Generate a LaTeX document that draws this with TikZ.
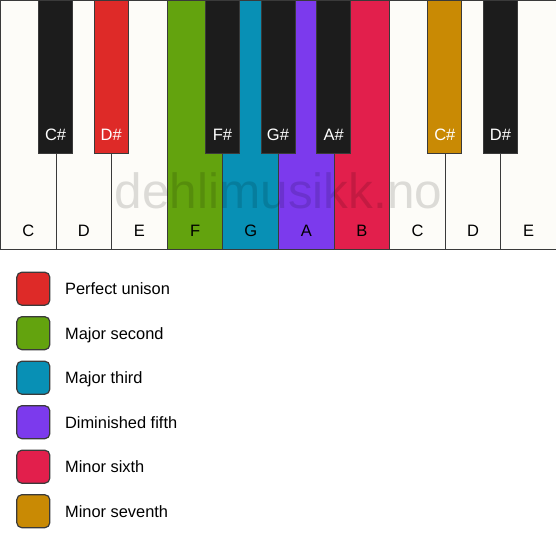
\documentclass[tikz,border=0pt]{standalone}
\usepackage{fontspec}
\setmainfont{Liberation Sans}
\usetikzlibrary{positioning}
\definecolor{ivory}{HTML}{FDFCF8}
\definecolor{keyblack}{HTML}{1C1C1C}
\definecolor{keyline}{HTML}{3A3A3A}
\definecolor{unison}{HTML}{DE2A28}
\definecolor{second}{HTML}{63A30E}
\definecolor{third}{HTML}{0890B5}
\definecolor{fifth}{HTML}{7C3AED}
\definecolor{sixth}{HTML}{E21F4C}
\definecolor{seventh}{HTML}{C98A04}
\tikzset{
  wkey/.style={draw=keyline, line width=1pt, fill=#1, minimum width=55.6pt, minimum height=249pt, anchor=north west, inner sep=0pt},
  bkey/.style={draw=keyline, line width=1pt, fill=#1, minimum width=34pt, minimum height=153pt, anchor=north, inner sep=0pt},
  wlab/.style={inner sep=0pt, text=black, font=\fontsize{16.5}{19}\selectfont},
  blab/.style={inner sep=0pt, text=white, font=\fontsize{16.5}{19}\selectfont},
  swatch/.style={draw=keyline, line width=1.2pt, fill=#1, rounded corners=5pt, minimum size=33pt, inner sep=0pt},
  legtext/.style={inner sep=0pt, text height=12.5pt, text depth=0pt, anchor=west, font=\fontsize{16.4}{19}\selectfont}
}
\begin{document}
\begin{tikzpicture}[x=1pt,y=-1pt]
	\useasboundingbox (0,0) rectangle (556,550);
	% white keys
	\node[wkey=ivory] (kC) at (0,0) {};
	\node[wkey=ivory] (kD) at (55.6,0) {};
	\node[wkey=ivory] (kE) at (111.2,0) {};
	\node[wkey=second] (kF) at (166.8,0) {};
	\node[wkey=third] (kG) at (222.4,0) {};
	\node[wkey=fifth] (kA) at (278,0) {};
	\node[wkey=sixth] (kB) at (333.6,0) {};
	\node[wkey=ivory] (kCC) at (389.2,0) {};
	\node[wkey=ivory] (kDD) at (444.8,0) {};
	\node[wkey=ivory] (kEE) at (500.4,0) {};
	
	\node[wlab, above=13pt of kC.south] (lC) {C};
	\node[wlab, above=13pt of kD.south] (lD) {D};
	\node[wlab, above=13pt of kE.south] (lE) {E};
	\node[wlab, above=13pt of kF.south] (lF) {F};
	\node[wlab, above=13pt of kG.south] (lG) {G};
	\node[wlab, above=13pt of kA.south] (lA) {A};
	\node[wlab, above=13pt of kB.south] (lB) {B};
	\node[wlab, above=13pt of kCC.south] (lCC) {C};
	\node[wlab, above=13pt of kDD.south] (lDD) {D};
	\node[wlab, above=13pt of kEE.south] (lEE) {E};
	
	% watermark
	\node[inner sep=0pt, anchor=base, text=black, text opacity=0.13, font=\fontsize{49.5}{52}\selectfont] (wm) at (278.5,208) {dehlimusikk.no};
	
	% black keys
	\node[bkey=keyblack] (kCs) at (55.6,0) {};
	\node[bkey=unison] (kDs) at (111.2,0) {};
	\node[bkey=keyblack] (kFs) at (222.4,0) {};
	\node[bkey=keyblack] (kGs) at (278,0) {};
	\node[bkey=keyblack] (kAs) at (333.6,0) {};
	\node[bkey=seventh] (kCCs) at (444.8,0) {};
	\node[bkey=keyblack] (kDDs) at (500.4,0) {};
	
	\node[blab, above=13.5pt of kCs.south] (lCs) {C\#};
	\node[blab, above=13.5pt of kDs.south] (lDs) {D\#};
	\node[blab, above=13.5pt of kFs.south] (lFs) {F\#};
	\node[blab, above=13.5pt of kGs.south] (lGs) {G\#};
	\node[blab, above=13.5pt of kAs.south] (lAs) {A\#};
	\node[blab, above=13.5pt of kCCs.south] (lCCs) {C\#};
	\node[blab, above=13.5pt of kDDs.south] (lDDs) {D\#};
	
	% legend
	\node[swatch=unison] (s1) at (33.3,288.7) {};
	\node[swatch=second] (s2) at (33.3,333.2) {};
	\node[swatch=third] (s3) at (33.3,377.7) {};
	\node[swatch=fifth] (s4) at (33.3,422.2) {};
	\node[swatch=sixth] (s5) at (33.3,466.7) {};
	\node[swatch=seventh] (s6) at (33.3,511.2) {};
	
	\node[legtext, right=14.5pt of s1] (t1) {Perfect unison};
	\node[legtext, right=14.5pt of s2] (t2) {Major second};
	\node[legtext, right=14.5pt of s3] (t3) {Major third};
	\node[legtext, right=14.5pt of s4] (t4) {Diminished fifth};
	\node[legtext, right=14.5pt of s5] (t5) {Minor sixth};
	\node[legtext, right=14.5pt of s6] (t6) {Minor seventh};
\end{tikzpicture}
\end{document}
